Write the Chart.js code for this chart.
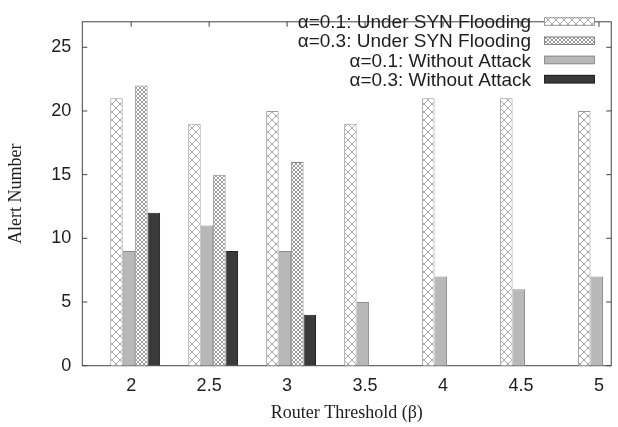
<!DOCTYPE html>
<html>
<head>
<meta charset="utf-8">
<script src="https://cdn.jsdelivr.net/npm/chart.js@4/dist/chart.umd.min.js"></script>
<style>
  html, body { margin: 0; padding: 0; background: #fff; }
</style>
</head>
<body>
<canvas id="chart" width="618" height="427"></canvas>
<script>
// valores
const thresholds = [2, 2.5, 3, 3.5, 4, 4.5, 5];
const synAlpha01 = [21, 19, 20, 19, 21, 21, 20];
const calmAlpha01 = [9, 11, 9, 5, 7, 6, 7];
const synAlpha03 = [22, 15, 16];
const calmAlpha03 = [12, 9, 4];
const yTicks = [0, 5, 10, 15, 20, 25];
const labels = [
  'α=0.1: Under SYN Flooding',
  'α=0.1: Without Attack',
  'α=0.3: Under SYN Flooding',
  'α=0.3: Without Attack'
];
const legendOrder = [0, 2, 1, 3]; // ordem da legenda (índices dos datasets)

const toPoints = vals => vals.map((v, i) => ({ x: thresholds[i], y: v }));

function hatch(size, bg, line) {
  const c = document.createElement('canvas');
  c.width = c.height = size;
  const g = c.getContext('2d');
  g.fillStyle = bg;
  g.fillRect(0, 0, size, size);
  g.strokeStyle = line;
  g.lineWidth = 1;
  g.beginPath();
  g.moveTo(0, 0); g.lineTo(size, size);
  g.moveTo(size, 0); g.lineTo(0, size);
  g.stroke();
  return g.createPattern(c, 'repeat');
}

const tickFont = { family: '"Liberation Sans", Arial, sans-serif', size: 18 };
const titleFont = { family: '"Liberation Serif", "Times New Roman", serif', size: 18 };
const textColor = '#1e1e1e';

// moldura com marcas para dentro (estilo gnuplot)
const framePlugin = {
  id: 'frame',
  beforeDatasetsDraw(chart) {
    const { ctx, chartArea: a, scales: { x, y } } = chart;
    ctx.save();
    ctx.strokeStyle = '#444';
    ctx.lineWidth = 1;
    ctx.strokeRect(a.left, a.top, a.right - a.left, a.bottom - a.top);
    ctx.beginPath();
    y.ticks.forEach(t => {
      const py = y.getPixelForValue(t.value);
      ctx.moveTo(a.left, py); ctx.lineTo(a.left + 5, py);
      ctx.moveTo(a.right, py); ctx.lineTo(a.right - 5, py);
    });
    x.ticks.forEach(t => {
      const px = x.getPixelForValue(t.value) - 4;
      ctx.moveTo(px, a.top); ctx.lineTo(px, a.top + 5);
      ctx.moveTo(px, a.bottom); ctx.lineTo(px, a.bottom - 5);
    });
    ctx.stroke();
    ctx.restore();
  }
};

const legendPlugin = {
  id: 'insideLegend',
  afterDatasetsDraw(chart) {
    const ctx = chart.ctx;
    ctx.save();
    ctx.font = '19px "Liberation Sans", Arial, sans-serif';
    ctx.textAlign = 'right';
    ctx.textBaseline = 'alphabetic';
    legendOrder.forEach((idx, row) => {
      const ds = chart.data.datasets[idx];
      const cy = 21.5 + row * 19.2;
      ctx.fillStyle = textColor;
      ctx.fillText(ds.label, 531, cy + 6.6);
      ctx.fillStyle = ds.backgroundColor;
      ctx.fillRect(544, cy - 4.2, 51, 8.5);
      ctx.strokeStyle = ds.borderColor;
      ctx.lineWidth = 1;
      ctx.strokeRect(544.5, cy - 3.7, 50, 7.5);
    });
    ctx.restore();
  }
};

const ctx = document.getElementById('chart').getContext('2d');
new Chart(ctx, {
  type: 'bar',
  data: {
    datasets: [
      { label: labels[0], data: toPoints(synAlpha01), backgroundColor: hatch(8, '#fff', '#a8a8a8'), borderColor: '#999', borderWidth: 1 },
      { label: labels[1], data: toPoints(calmAlpha01), backgroundColor: '#b8b8b8', borderColor: '#8e8e8e', borderWidth: 1 },
      { label: labels[2], data: toPoints(synAlpha03), backgroundColor: hatch(4, '#fff', '#9a9a9a'), borderColor: '#888', borderWidth: 1 },
      { label: labels[3], data: toPoints(calmAlpha03), backgroundColor: '#3a3a3a', borderColor: '#222', borderWidth: 1 }
    ]
  },
  options: {
    responsive: false,
    animation: false,
    devicePixelRatio: 1,
    layout: { padding: { top: 5.7, right: 0.5, left: 0, bottom: 0 } },
    datasets: { bar: { categoryPercentage: 0.639, barPercentage: 1 } },
    scales: {
      x: {
        type: 'linear',
        min: 1.661,
        max: 5.053,
        offset: false,
        grid: { display: false, drawTicks: false },
        border: { display: false },
        afterBuildTicks: s => { s.ticks = thresholds.map(v => ({ value: v })); },
        afterFit: s => { s.height = 61.3; },
        ticks: { font: tickFont, color: textColor, padding: 10, labelOffset: -4, callback: v => String(v) },
        title: { display: true, text: 'Router Threshold (β)', font: titleFont, color: textColor, padding: { top: 0, bottom: 3.2 } }
      },
      y: {
        min: 0,
        max: 27,
        grid: { display: false, drawTicks: false },
        border: { display: false },
        afterBuildTicks: s => { s.ticks = yTicks.map(v => ({ value: v })); },
        afterFit: s => { s.width = 82.3; },
        ticks: { font: tickFont, color: textColor, padding: 11 },
        title: { display: true, text: 'Alert Number', font: titleFont, color: textColor, padding: { top: 5.2, bottom: 0 } }
      }
    },
    plugins: {
      legend: { display: false },
      tooltip: { enabled: false }
    }
  },
  plugins: [framePlugin, legendPlugin]
});
</script>
</body>
</html>
